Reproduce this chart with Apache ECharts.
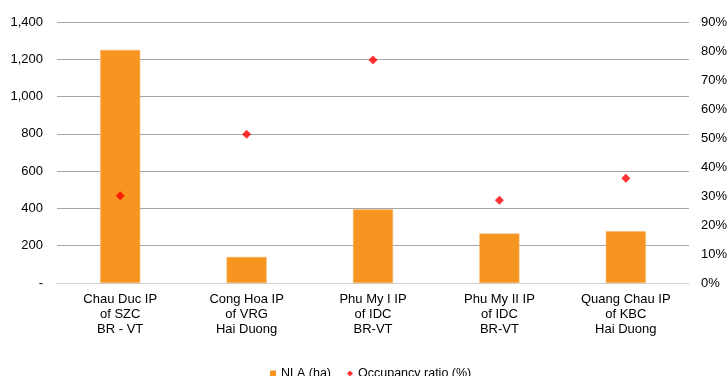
<!DOCTYPE html>
<html>
<head>
<meta charset="utf-8">
<script src="https://cdn.jsdelivr.net/npm/echarts@6/dist/echarts.min.js"></script>
<style>
  html, body { margin: 0; padding: 0; background: #fff; }
  #chart { width: 727px; height: 376px; }
</style>
</head>
<body>
<div id="chart"></div>
<script>
  // chart data
  var categories = [
    'Chau Duc IP\nof SZC\nBR - VT',
    'Cong Hoa IP\nof VRG\nHai Duong',
    'Phu My I IP\nof IDC\nBR-VT',
    'Phu My II IP\nof IDC\nBR-VT',
    'Quang Chau IP\nof KBC\nHai Duong'
  ]
  var nlaHa = [1250, 140, 395, 265, 278]
  var occupancyPct = [30.1, 51.3, 76.9, 28.5, 36.1]

  var chart = echarts.init(document.getElementById('chart'))
  var font = 'Liberation Sans, Arial, sans-serif'

  chart.setOption({
    animation: false,
    grid: {
      left: 57,
      right: 38,
      top: 22,
      bottom: 93,
      outerBoundsMode: 'none'
    },
    legend: {
      top: 367,
      left: 270,
      padding: 0,
      itemGap: 16,
      itemWidth: 6,
      itemHeight: 6,
      textStyle: { color: '#000', fontSize: 12.5, fontFamily: font },
      data: [
        { name: 'NLA (ha)', icon: 'rect', itemStyle: { color: '#F6951F', borderWidth: 0 } },
        { name: 'Occupancy ratio (%)', icon: 'diamond', itemStyle: { color: '#FF0000' } }
      ]
    },
    xAxis: {
      type: 'category',
      data: categories,
      axisTick: { show: false },
      axisLine: { lineStyle: { color: '#d0d0d0' } },
      axisLabel: {
        interval: 0,
        margin: 9,
        color: '#000',
        fontSize: 13,
        lineHeight: 15,
        fontFamily: font
      }
    },
    yAxis: [{
      type: 'value',
      min: 0,
      max: 1400,
      interval: 200,
      axisLine: { show: false },
      axisTick: { show: false },
      splitLine: { lineStyle: { color: '#a6a6a6' } },
      axisLabel: {
        margin: 14,
        color: '#000',
        fontSize: 13,
        fontFamily: font,
        formatter: function (v) {
          return v === 0 ? '-' : v.toLocaleString('en-US')
        }
      }
    }, {
      type: 'value',
      min: 0,
      max: 90,
      interval: 10,
      axisLine: { show: false },
      axisTick: { show: false },
      splitLine: { show: false },
      axisLabel: {
        margin: 12,
        color: '#000',
        fontSize: 13,
        fontFamily: font,
        formatter: '{value}%'
      }
    }],
    series: [{
      name: 'NLA (ha)',
      type: 'bar',
      barWidth: 40,
      itemStyle: {
        color: '#F6951F',
        borderColor: '#F9B46A',
        borderWidth: 0.5
      },
      data: nlaHa
    }, {
      name: 'Occupancy ratio (%)',
      type: 'scatter',
      yAxisIndex: 1,
      symbol: 'diamond',
      symbolSize: 9,
      itemStyle: { color: '#FF0000' },
      z: 5,
      data: occupancyPct
    }]
  })
</script>
</body>
</html>
